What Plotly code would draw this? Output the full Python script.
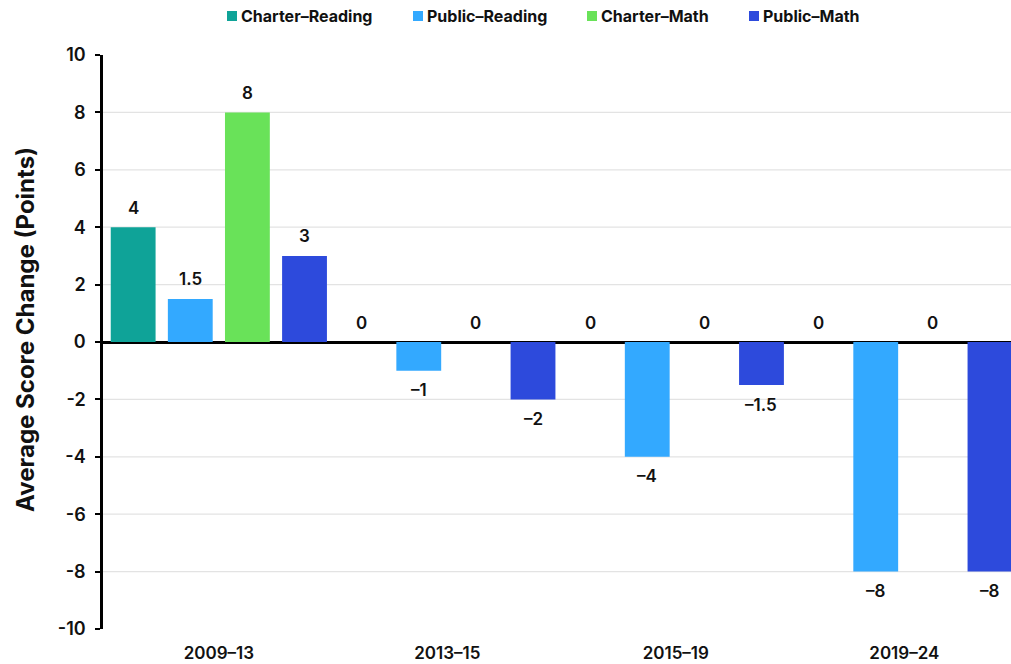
import plotly.graph_objects as go

# Period groups along the x axis
periods = ["2009–13", "2013–15", "2015–19", "2019–24"]

# Average score change (points) for each series
charter_reading = [4, 0, 0, 0]
public_reading = [1.5, -1, -4, -8]
charter_math = [8, 0, 0, 0]
public_math = [3, -2, -1.5, -8]

series_names = ["Charter–Reading", "Public–Reading", "Charter–Math", "Public–Math"]
series_values = [charter_reading, public_reading, charter_math, public_math]
series_colors = ["#0fa398", "#33a9ff", "#69e259", "#2d4adc"]

y_ticks = [10, 8, 6, 4, 2, 0, -2, -4, -6, -8, -10]

FONT = "Inter"
INK = "#111111"

# Plot-area geometry (pixels)
W, H = 1011, 664
L, R, T, B = 103, 0, 55, 35
PW, PH = W - L - R, H - T - B
X_RANGE = [-0.507, 3.467]
GROUP_PX = PW / (X_RANGE[1] - X_RANGE[0])
SLOT_PX = GROUP_PX / len(series_names)


def fmt(v):
    return f"{v:g}".replace("-", "–")


def px_x(px):
    return (px - L) / PW


def px_y(py):
    return (H - B - py) / PH


fig = go.Figure()
annotations = []
for i, (name, vals, color) in enumerate(zip(series_names, series_values, series_colors)):
    fig.add_trace(go.Bar(
        x=periods,
        y=vals,
        name=name,
        marker=dict(color=color, line=dict(width=0)),
        showlegend=False,
    ))
    # Value labels above positive/zero bars, below negative ones
    for p, v in zip(periods, vals):
        annotations.append(dict(
            x=p, y=v, xref="x", yref="y",
            xshift=(i - 1.5) * SLOT_PX,
            yshift=19.5 if v >= 0 else -19.5,
            xanchor="center", yanchor="middle", showarrow=False,
            text=fmt(v),
            font=dict(family=FONT, size=17, color=INK, weight=600),
        ))

# Light horizontal guides at interior ticks
shapes = []
for t in y_ticks:
    if t in (10, 0, -10):
        continue
    shapes.append(dict(type="line", xref="paper", yref="y", x0=0, x1=1, y0=t, y1=t,
                       line=dict(color="#e3e3e3", width=1.2), layer="below"))

# Legend row along the top
legend_x = [227, 413, 587, 749]
for name, color, lx in zip(series_names, series_colors, legend_x):
    shapes.append(dict(type="rect", xref="paper", yref="paper",
                       x0=px_x(lx), x1=px_x(lx + 10),
                       y0=px_y(21), y1=px_y(11),
                       fillcolor=color, line=dict(width=0)))
    annotations.append(dict(xref="paper", yref="paper",
                            x=px_x(lx + 12), y=px_y(16),
                            xanchor="left", yanchor="middle", showarrow=False,
                            text=name,
                            font=dict(family=FONT, size=16, color=INK, weight=700)))

# Vertical axis title
annotations.append(dict(xref="paper", yref="paper",
                        x=px_x(26), y=px_y(330),
                        xanchor="center", yanchor="middle", showarrow=False,
                        textangle=-90,
                        text="Average Score Change (Points)",
                        font=dict(family=FONT, size=24, color=INK, weight=700)))

fig.update_layout(
    width=W,
    height=H,
    margin=dict(l=L, r=R, t=T, b=B),
    paper_bgcolor="white",
    plot_bgcolor="white",
    barmode="group",
    bargap=0,
    bargroupgap=0.215,
    shapes=shapes,
    annotations=annotations,
    font=dict(family=FONT, color=INK),
    xaxis=dict(
        range=X_RANGE,
        showline=False,
        showgrid=False,
        zeroline=False,
        ticks="",
        ticklabelstandoff=12,
        tickfont=dict(family=FONT, size=17, color=INK, weight=600),
    ),
    yaxis=dict(
        range=[-10, 10],
        tickvals=y_ticks,
        ticktext=[str(t) for t in y_ticks],
        showgrid=False,
        zeroline=True,
        zerolinecolor="#000000",
        zerolinewidth=2.5,
        showline=True,
        linecolor="#000000",
        linewidth=2.5,
        ticks="outside",
        ticklen=5,
        tickwidth=2,
        tickcolor="#000000",
        ticklabelstandoff=6,
        tickfont=dict(family=FONT, size=18, color=INK, weight=600),
    ),
)

fig.write_html("out.html")
